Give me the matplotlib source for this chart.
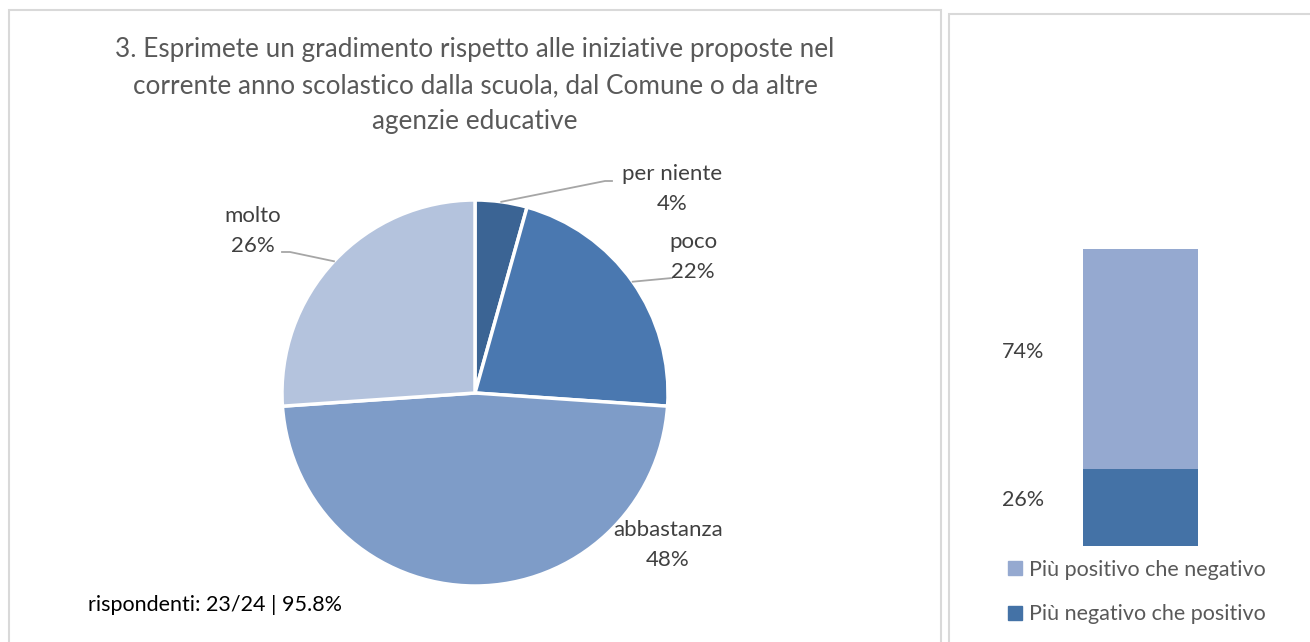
import matplotlib
matplotlib.use("Agg")
import matplotlib.pyplot as plt
from matplotlib.patches import Rectangle, Patch
import numpy as np

plt.rcParams['font.family'] = ['Lato', 'DejaVu Sans']

# ---------------- data ----------------
title = ("3. Esprimete un gradimento rispetto alle iniziative proposte nel\n"
         "corrente anno scolastico dalla scuola, dal Comune o da altre\n"
         "agenzie educative")
pie_labels = ["per niente", "poco", "abbastanza", "molto"]
pie_counts = [1, 5, 11, 6]
pie_pct = ["4%", "22%", "48%", "26%"]
pie_colors = ["#3B6494", "#4A78B0", "#7E9CC8", "#B4C3DD"]

bar_series = ["Più negativo che positivo", "Più positivo che negativo"]
bar_values = [0.26, 0.74]
bar_labels = ["26%", "74%"]
bar_colors = ["#4472A6", "#95A9D0"]
respondents = "rispondenti: 23/24 | 95.8%"

W, H = 1310, 642
fig = plt.figure(figsize=(W / 100, H / 100), dpi=100)
fig.patch.set_facecolor("white")

def fx(px): return px / W
def fy(py): return 1 - py / H

# panel borders
fig.add_artist(Rectangle((fx(9), fy(700)), fx(941) - fx(9), fy(10) - fy(700),
                         transform=fig.transFigure, fill=False, ec="#D9D9D9", lw=1.5))
fig.add_artist(Rectangle((fx(949), fy(700)), fx(1400) - fx(949), fy(14) - fy(700),
                         transform=fig.transFigure, fill=False, ec="#D9D9D9", lw=1.5))

# title
fig.text(fx(475), fy(37), title, ha="center", va="top", fontsize=18.8,
         color="#595959", linespacing=1.56)

# ---------------- pie ----------------
cx, cy, r = 475, 393, 193
axp = fig.add_axes([fx(cx - r), fy(cy + r), 2 * r / W, 2 * r / H])
wedges, _ = axp.pie(pie_counts, colors=pie_colors, startangle=90, counterclock=False,
                    radius=1, wedgeprops=dict(edgecolor="white", linewidth=2.5))
axp.set_xlim(-1, 1)
axp.set_ylim(-1, 1)
axp.set_aspect("equal")
axp.axis("off")

def d(px, py):
    return ((px - cx) / r, (cy - py) / r)

lc = "#A6A6A6"
label_pos = [d(672, 189), d(693, 257), d(668, 545), d(253, 231)]
leaders = [
    [None, d(605, 181), d(612, 181)],
    [None, d(672, 278)],
    None,
    [None, d(290, 252), d(282, 252)],
]
total = sum(pie_counts)
cum = 0
for i, (lab, pct) in enumerate(zip(pie_labels, pie_pct)):
    mid = 90 - 360 * (cum + pie_counts[i] / 2) / total
    cum += pie_counts[i]
    tx, ty = label_pos[i]
    axp.text(tx, ty, f"{lab}\n{pct}", ha="center", va="center", fontsize=16,
             color="#404040", linespacing=1.62, clip_on=False)
    if leaders[i] is not None:
        pts = [(np.cos(np.radians(mid)), np.sin(np.radians(mid)))] + leaders[i][1:]
        xs, ys = zip(*pts)
        axp.plot(xs, ys, color=lc, lw=1.3, clip_on=False)

fig.text(fx(88), fy(605), respondents, ha="left", va="center", fontsize=15.5,
         color="black")

# ---------------- stacked bar ----------------
axb = fig.add_axes([fx(1083), fy(546), 115 / W, 297 / H])
label_y = [(546 - 500) / 297, (546 - 352) / 297]
bottom = 0
for v, c, l, ly in zip(bar_values, bar_colors, bar_labels, label_y):
    axb.bar(0, v, width=1, bottom=bottom, color=c)
    axb.text(-1.02, ly, l, ha="center", va="center", fontsize=15.5,
             color="#404040", clip_on=False)
    bottom += v
axb.set_xlim(-0.5, 0.5)
axb.set_ylim(0, 1)
axb.axis("off")

handles = [Patch(color=bar_colors[1]), Patch(color=bar_colors[0])]
fig.legend(handles, [bar_series[1], bar_series[0]], loc="center left",
           bbox_to_anchor=(fx(989), fy(592)), frameon=False, fontsize=15.5,
           labelcolor="#595959", handlelength=0.62, handleheight=0.62,
           handletextpad=0.35, labelspacing=1.15)

fig.savefig("out.png", dpi=100)
